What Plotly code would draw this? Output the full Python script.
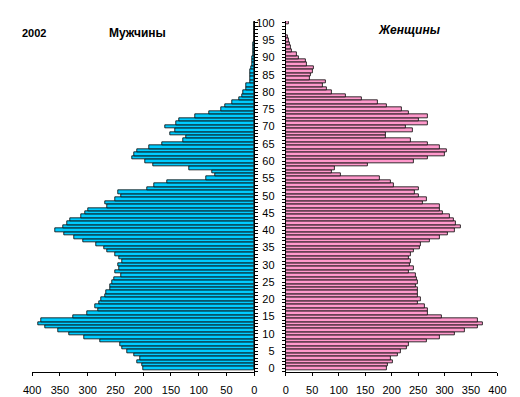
import plotly.graph_objects as go
from plotly.subplots import make_subplots

ages = list(range(0, 101))

male = [200, 201, 210, 206, 217, 229, 238, 241, 277, 306,
        334, 353, 377, 389, 383, 326, 301, 282, 287, 280,
        276, 269, 266, 260, 260, 255, 253, 240, 250, 243,
        245, 238, 244, 250, 265, 271, 284, 309, 325, 343,
        359, 345, 337, 332, 312, 304, 300, 265, 269, 250,
        239, 245, 193, 180, 156, 87, 71, 75, 118, 182,
        196, 219, 217, 210, 189, 165, 128, 123, 151, 142,
        160, 140, 135, 106, 81, 60, 53, 40, 27, 22,
        19, 15, 15, 8, 7, 6.4, 6.4, 4.6, 4.1, 2.9,
        2.9, 1.7, 1.2, 1.2, 1.2, 0.6, 0.5, 0.3, 0.2, 0.1, 0.3]

female = [191, 193, 202, 199, 211, 218, 229, 233, 266, 291,
          320, 339, 363, 372, 363, 294, 268, 269, 263, 250,
          255, 250, 249, 249, 246, 249, 247, 245, 233, 242,
          235, 237, 232, 236, 241, 253, 256, 272, 291, 306,
          319, 331, 322, 317, 310, 296, 291, 291, 258, 266,
          251, 244, 251, 204, 199, 178, 103, 87, 92, 154,
          242, 268, 301, 304, 291, 269, 237, 189, 189, 240,
          226, 269, 251, 268, 233, 220, 191, 173, 144, 114,
          87, 78, 69, 76, 45, 47, 51, 52, 40, 38,
          25, 21, 12, 10, 7, 5, 3, 0, 0, 0, 5]

x_ticks = [0, 50, 100, 150, 200, 250, 300, 350, 400]
age_ticks = list(range(0, 101, 5))

W, H = 520, 397
fig = make_subplots(rows=1, cols=2, horizontal_spacing=0.0)

fig.add_trace(go.Bar(x=male, y=ages, orientation="h",
                     marker=dict(color="#00CCFF", line=dict(color="#000000", width=0.8)),
                     showlegend=False), row=1, col=1)
fig.add_trace(go.Bar(x=female, y=ages, orientation="h",
                     marker=dict(color="#FF99CC", line=dict(color="#000000", width=0.8)),
                     showlegend=False), row=1, col=2)

ydom = [(H - 373.5) / H, (H - 17.5) / H]
font = dict(family="Liberation Sans, Arial, sans-serif", size=11, color="#000000")

fig.update_layout(
    width=W, height=H,
    margin=dict(l=0, r=0, t=0, b=0),
    paper_bgcolor="white", plot_bgcolor="white",
    bargap=0,
    font=font,
    xaxis=dict(domain=[24 / W, 254 / W], range=[400, 0], tickvals=x_ticks,
               showline=True, linecolor="black", linewidth=1,
               ticks="outside", ticklen=3, tickcolor="black", ticklabelstandoff=5,
               showgrid=False, zeroline=False, tickfont=font),
    xaxis2=dict(domain=[286.7 / W, 506 / W], range=[0, 400], tickvals=x_ticks,
                showline=True, linecolor="black", linewidth=1,
                ticks="outside", ticklen=3, tickcolor="black", ticklabelstandoff=5,
                showgrid=False, zeroline=False, tickfont=font),
    yaxis=dict(domain=ydom, range=[-1, 100.5], side="right",
               showline=True, linecolor="black", linewidth=1,
               ticks="outside", ticklen=3, tickcolor="black",
               tickvals=age_ticks, showticklabels=False,
               minor=dict(dtick=1, ticks="outside", ticklen=3, tickcolor="black"),
               showgrid=False, zeroline=False),
    yaxis2=dict(domain=ydom, range=[-1, 100.5], side="left", anchor="x2",
                showline=True, linecolor="black", linewidth=1,
                ticks="outside", ticklen=3, tickcolor="black", ticklabelstandoff=5,
                tickvals=age_ticks, showticklabels=True, tickfont=font,
                minor=dict(dtick=1, ticks="outside", ticklen=3, tickcolor="black"),
                showgrid=False, zeroline=False),
)

fig.add_annotation(text="<b>2002</b>", x=26 / W, y=(H - 29) / H, xref="paper", yref="paper",
                   showarrow=False, xanchor="center", yanchor="middle",
                   font=dict(family="Liberation Sans, Arial, sans-serif", size=11, color="#000000"))
fig.add_annotation(text="<b>Мужчины</b>", x=133 / W, y=(H - 29) / H, xref="paper", yref="paper",
                   showarrow=False, xanchor="center", yanchor="middle",
                   font=dict(family="Liberation Sans, Arial, sans-serif", size=12, color="#000000"))
fig.add_annotation(text="<b><i>Женщины</i></b>", x=415 / W, y=(H - 26) / H, xref="paper", yref="paper",
                   showarrow=False, xanchor="center", yanchor="middle",
                   font=dict(family="Liberation Sans, Arial, sans-serif", size=12, color="#000000"))

fig.write_html("out.html", config={"displayModeBar": False},
               post_script="document.body.style.margin='0';")
